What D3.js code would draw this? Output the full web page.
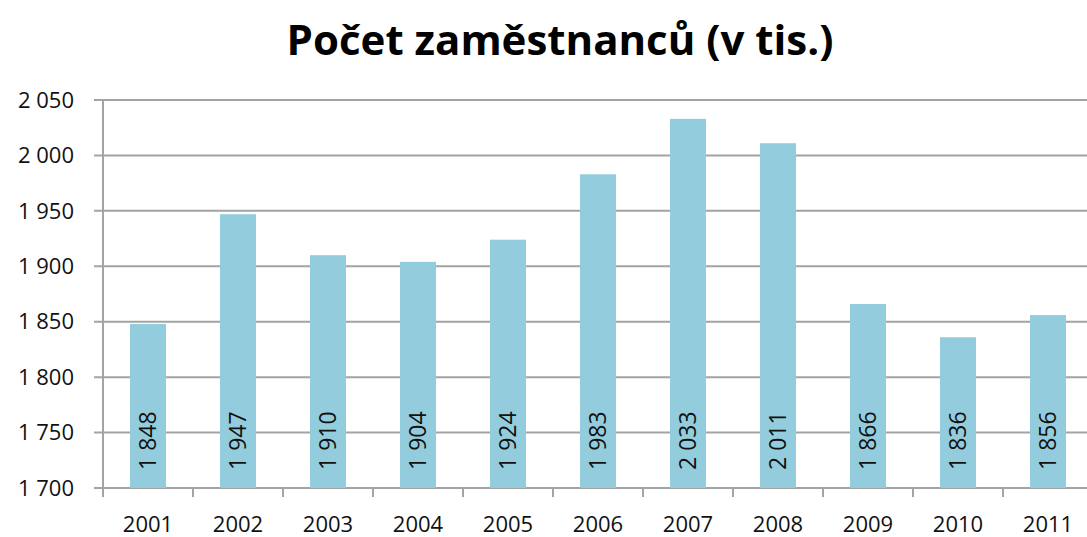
<!DOCTYPE html>
<html>
<head>
<meta charset="utf-8">
<script src="https://cdn.jsdelivr.net/npm/d3@7"></script>
<style>
  body { margin: 0; background: #fff; }
  svg text { font-family: 'Open Sans', 'Noto Sans', sans-serif; }
</style>
</head>
<body>
<div id="chart"></div>
<script>
const years = ['2001', '2002', '2003', '2004', '2005', '2006', '2007', '2008', '2009', '2010', '2011'];
const employees = [1848, 1947, 1910, 1904, 1924, 1983, 2033, 2011, 1866, 1836, 1856];
const yTicks = [1700, 1750, 1800, 1850, 1900, 1950, 2000, 2050];

const width = 1087;
const height = 537;
const margin = {top: 100, bottom: 49, left: 103, right: -6};

const cz = d3.formatLocale({decimal: ',', thousands: ' ', grouping: [3], currency: ['', ' Kč']});
const fmt = cz.format(',d');

const svg = d3.select('#chart')
    .append('svg')
    .attr('width', width)
    .attr('height', height);

const x = d3.scaleBand()
    .domain(years)
    .range([margin.left, width - margin.right])
    .paddingInner(0.6)
    .paddingOuter(0.3);

const y = d3.scaleLinear()
    .domain([1700, 2050])
    .range([height - margin.bottom, margin.top]);

// gridlines + y ticks
svg.append('g')
    .selectAll('line')
    .data(yTicks)
    .join('line')
        .attr('x1', margin.left - 9)
        .attr('x2', width)
        .attr('y1', d => y(d))
        .attr('y2', d => y(d))
        .attr('stroke', '#a3a3a3')
        .attr('stroke-width', 2);

svg.append('g')
    .selectAll('text')
    .data(yTicks)
    .join('text')
        .attr('x', 74)
        .attr('y', d => y(d))
        .attr('dy', '0.35em')
        .attr('text-anchor', 'end')
        .attr('font-size', '22px')
        .attr('fill', '#111')
        .text(d => fmt(d));

// bars
svg.append('g')
    .attr('fill', '#93cddd')
    .selectAll('rect')
    .data(employees)
    .join('rect')
        .attr('x', (d, i) => x(years[i]))
        .attr('y', d => y(d))
        .attr('width', x.bandwidth())
        .attr('height', d => y(1700) - y(d));

// value labels inside bars
svg.append('g')
    .selectAll('text')
    .data(employees)
    .join('text')
        .attr('transform', (d, i) => `translate(${x(years[i]) + x.bandwidth() / 2}, ${y(1700) - 18}) rotate(-90)`)
        .attr('dy', '0.35em')
        .attr('font-size', '23px')
        .attr('fill', '#111')
        .text(d => fmt(d));

// axes lines
svg.append('line')
    .attr('x1', margin.left).attr('x2', margin.left)
    .attr('y1', y(2050)).attr('y2', y(1700) + 9)
    .attr('stroke', '#a3a3a3').attr('stroke-width', 2);

const step = x.step();
svg.append('g')
    .selectAll('line')
    .data(years)
    .join('line')
        .attr('x1', d => x(d) - x.paddingInner() * step / 2 + step)
        .attr('x2', d => x(d) - x.paddingInner() * step / 2 + step)
        .attr('y1', y(1700))
        .attr('y2', y(1700) + 9)
        .attr('stroke', '#a3a3a3').attr('stroke-width', 2);

svg.append('g')
    .selectAll('text')
    .data(years)
    .join('text')
        .attr('x', d => x(d) + x.bandwidth() / 2)
        .attr('y', 524)
        .attr('dy', '0.35em')
        .attr('text-anchor', 'middle')
        .attr('font-size', '22px')
        .attr('fill', '#111')
        .text(d => d);

// title
svg.append('text')
    .attr('x', 560)
    .attr('y', 40)
    .attr('dy', '0.35em')
    .attr('text-anchor', 'middle')
    .attr('font-size', '42px')
    .attr('font-weight', 'bold')
    .attr('fill', '#000')
    .text('Počet zaměstnanců (v tis.)');
</script>
</body>
</html>
